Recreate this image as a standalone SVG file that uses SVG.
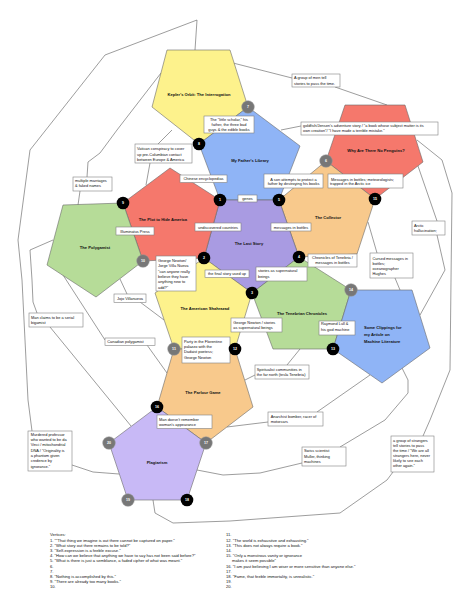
<svg xmlns="http://www.w3.org/2000/svg" width="474" height="609" viewBox="0 0 474 609">
<style>
text{font-family:"Liberation Sans",Arial,sans-serif;fill:#111}
.pl{stroke:#6a6a6a;stroke-width:0.6;stroke-linejoin:round}
.lbl{font-size:4.1px;font-weight:bold;text-anchor:middle}
.lbl2{font-size:4.1px;font-weight:bold}
.box{fill:#fff;stroke:#808080;stroke-width:0.6}
.bt{font-size:3.9px}
.c{text-anchor:middle}
.ln{fill:none;stroke:#5a5a5a;stroke-width:0.6;stroke-linejoin:round}
.vb{fill:#000}
.vg{fill:#777;stroke:#999;stroke-width:0.5}
.vt{font-size:3.6px;fill:#fff;text-anchor:middle;font-weight:bold}
.leg{font-size:4.1px}
</style>
<rect width="474" height="609" fill="#fff"/>
<g id="connectors">
<polyline class="ln" points="161,73 117,130 100,153 88,162 87,177"/>
<polyline class="ln" points="80,191 78,205"/>
<polyline class="ln" points="195,50 197,20 105,55 30,150 18,240 22,280 28,400 32,431"/>
<polyline class="ln" points="233,63 292,78"/>
<polyline class="ln" points="335,87 387,105"/>
<polyline class="ln" points="301,126 281,130"/>
<polyline class="ln" points="172,130 158,144"/>
<polyline class="ln" points="150,163 146,185"/>
<polyline class="ln" points="53,240 30,250 32,280 33,302 37,313"/>
<polyline class="ln" points="63,275 105,340"/>
<polyline class="ln" points="147,345 167,373"/>
<polyline class="ln" points="120,279 127,294"/>
<polyline class="ln" points="140,302 164,320"/>
<polyline class="ln" points="50,327 131,426"/>
<polyline class="ln" points="72,465 93,472 119,474"/>
<polyline class="ln" points="153,500 155,513 173,523 230,521 340,513 387,480 393,472"/>
<polyline class="ln" points="423,436 430,420 450,370 452,193 442,160 417,140"/>
<polyline class="ln" points="418,166 437,221"/>
<polyline class="ln" points="437,235 445,270 420,315"/>
<polyline class="ln" points="368,222 377,253"/>
<polyline class="ln" points="395,278 400,290"/>
<polyline class="ln" points="402,368 408,380 408,393 385,420 340,447"/>
<polyline class="ln" points="302,463 260,473 223,475 197,470"/>
<polyline class="ln" points="370,375 317,412"/>
<polyline class="ln" points="268,422 227,427"/>
<polyline class="ln" points="255,375 245,380"/>
<polyline class="ln" points="287,365 300,349"/>
</g>
<g id="kepler"><polygon class="pl" fill="#fdf28c" points="167,50 230,50 248,107 199,144 152,107"/><text class="lbl" x="199" y="95.5">Kepler's Orbit: The Interrogation</text></g>
<g id="library"><polygon class="pl" fill="#8fb4f6" points="199,144 248,107 300,146 279,200 220,200"/><text class="lbl" x="250" y="161.5">My Father's Library</text></g>
<g id="penguins"><polygon class="pl" fill="#f5786c" points="345,105 405,105 423,162 375,199 326,161"/><text class="lbl" x="376" y="151.5">Why Are There No Penguins?</text></g>
<g id="collector"><polygon class="pl" fill="#f8c98c" points="279,200 326,161 375,199 357,254 299,257"/><text class="lbl" x="328" y="218.5">The Collector</text></g>
<g id="laststory"><polygon class="pl" fill="#a99be2" points="220,200 279,200 299,257 252,293 204,258"/><text class="lbl" x="249" y="244.5">The Last Story</text></g>
<g id="plot"><polygon class="pl" fill="#f5786c" points="123,203 170,168 220,200 204,258 143,261"/><text class="lbl" x="163" y="220.5">The Plot to Hide America</text></g>
<g id="polygamist"><polygon class="pl" fill="#b6dc98" points="63,205 123,203 143,261 96,297 47,265"/><text class="lbl" x="95" y="248.5">The Polygamist</text></g>
<g id="shahrazad"><polygon class="pl" fill="#fdf28c" points="155,293 204,258 252,293 235,349 174,349"/><text class="lbl" x="205" y="309.5">The American Shahrazad</text></g>
<g id="tenebrian"><polygon class="pl" fill="#b6dc98" points="252,293 299,257 351,290 333,349 273,349"/><text class="lbl" x="302" y="314.5">The Tenebrian Chronicles</text></g>
<g id="clippings"><polygon class="pl" fill="#8fb4f6" points="351,290 412,290 430,348 382,383 333,349"/><text class="lbl2" x="364" y="329">Some Clippings for</text><text class="lbl2" x="364" y="336">my Article on</text><text class="lbl2" x="364" y="343">Machine Literature</text></g>
<g id="parlour"><polygon class="pl" fill="#f8c98c" points="174,349 235,349 253,407 206,443 157,407"/><text class="lbl" x="203" y="393.5">The Parlour Game</text></g>
<g id="plagiarism"><polygon class="pl" fill="#c8b9f6" points="157,407 206,443 187,500 128,500 109,443"/><text class="lbl" x="157" y="464">Plagiarism</text></g>
<g id="notes">
<rect class="box" x="292" y="74" width="48" height="13"/><text class="bt" x="294" y="79.4">A group of men tell</text><text class="bt" x="294" y="84.8">stories to pass the time.</text>
<rect class="box" x="204" y="116" width="50" height="17"/><text class="bt c" x="229" y="120.7">The "little scholar," his</text><text class="bt c" x="229" y="126">father, the three bad</text><text class="bt c" x="229" y="131.3">guys &amp; the edible books</text>
<rect class="box" x="301" y="122" width="137" height="13"/><text class="bt" x="303" y="127">goldfish/Jensen's adventure story / "a book whose subject matter is its</text><text class="bt" x="303" y="132.4">own creation"/ "I have made a terrible mistake."</text>
<rect class="box" x="135" y="144" width="57" height="19"/><text class="bt" x="137" y="150.4">Vatican conspiracy to cover</text><text class="bt" x="137" y="155.7">up pre-Columbian contact</text><text class="bt" x="137" y="161">between Europe &amp; America</text>
<rect class="box" x="180" y="175" width="47" height="7.5"/><text class="bt c" x="203.5" y="180">Chinese encyclopedias</text>
<rect class="box" x="264" y="174" width="59" height="14"/><text class="bt c" x="293.5" y="180.7">A son attempts to protect a</text><text class="bt c" x="293.5" y="185.4">father by destroying his books</text>
<rect class="box" x="328" y="174" width="75" height="14"/><text class="bt" x="331" y="180.7">Messages in bottles; meteorologists;</text><text class="bt" x="330" y="185.4">trapped in the Arctic ice</text>
<rect class="box" x="73" y="177" width="39" height="14"/><text class="bt" x="75" y="182">multiple marriages</text><text class="bt" x="75" y="187.4">&amp; faked names</text>
<rect class="box" x="238" y="195" width="19" height="7"/><text class="bt c" x="247.5" y="200">genes</text>
<rect class="box" x="195" y="223" width="46" height="8"/><text class="bt c" x="218" y="228.5">undiscovered countries</text>
<rect class="box" x="271" y="223" width="40" height="8"/><text class="bt c" x="291" y="228.5">messages in bottles</text>
<rect class="box" x="116" y="227" width="38" height="8"/><text class="bt c" x="135" y="232.5">Illuminatus Press</text>
<rect class="box" x="156" y="256" width="40" height="35"/><text class="bt" x="158" y="262">George Newton/</text><text class="bt" x="158" y="267.4">Jorge Villa Nueva</text><text class="bt" x="158" y="272.7">"can anyone really</text><text class="bt" x="158" y="278">believe they have</text><text class="bt" x="158" y="283.4">anything new to</text><text class="bt" x="158" y="288.7">add?"</text>
<rect class="box" x="205" y="270" width="44" height="7.5"/><text class="bt c" x="227" y="275.3">the final story used up</text>
<rect class="box" x="256" y="267" width="51" height="14"/><text class="bt" x="258" y="272.4">stories as supernatural</text><text class="bt" x="258" y="277.7">beings</text>
<rect class="box" x="308" y="254" width="49" height="13"/><text class="bt c" x="332.5" y="259">Chronicles of Tenebria /</text><text class="bt c" x="332.5" y="264">messages in bottles</text>
<rect class="box" x="370" y="253" width="43" height="25"/><text class="bt" x="372.5" y="259.7">Cursed messages in</text><text class="bt" x="372.5" y="264.7">bottles;</text><text class="bt" x="372.5" y="270">oceanographer</text><text class="bt" x="372.5" y="275.4">Hughes</text>
<rect class="box" x="412" y="221" width="33" height="14"/><text class="bt" x="414" y="226.7">Arctic</text><text class="bt" x="414" y="232">hallucination;</text>
<rect class="box" x="114" y="294" width="32" height="8.5"/><text class="bt c" x="130" y="300">Jojo Villanueva</text>
<rect class="box" x="29" y="313" width="54" height="14"/><text class="bt" x="31" y="318.7">Man claims to be a serial</text><text class="bt" x="31" y="324">bigamist</text>
<rect class="box" x="105" y="338" width="50" height="7.5"/><text class="bt" x="107.3" y="343.3">Canadian polygamist</text>
<rect class="box" x="182" y="337" width="48" height="26"/><text class="bt" x="184" y="343">Party in the Florentine</text><text class="bt" x="184" y="348.2">palazzo with the</text><text class="bt" x="184" y="353.4">Dadaist poetess;</text><text class="bt" x="184" y="358.7">George Newton</text>
<rect class="box" x="231" y="318" width="51" height="14"/><text class="bt" x="233.3" y="323.7">George Newton / stories</text><text class="bt" x="233.3" y="329">as supernatural beings</text>
<rect class="box" x="319" y="321" width="36" height="14"/><text class="bt" x="321" y="325.4">Raymond Lull &amp;</text><text class="bt" x="321" y="330.7">his god machine</text>
<rect class="box" x="255" y="365" width="54" height="14"/><text class="bt" x="256.7" y="370.7">Spiritualist communities in</text><text class="bt" x="256.7" y="376">the far north (tesla Tenebria)</text>
<rect class="box" x="157" y="415" width="55" height="13.5"/><text class="bt" x="159" y="420.7">Man doesn't remember</text><text class="bt" x="159" y="425.7">woman's appearance</text>
<rect class="box" x="268" y="412" width="55" height="14"/><text class="bt" x="270.7" y="418">Anarchist bomber, racer of</text><text class="bt" x="270.7" y="423.4">motorcars</text>
<rect class="box" x="302" y="447" width="44" height="19"/><text class="bt" x="304" y="452.4">Swiss scientist</text><text class="bt" x="304" y="457.7">Muller, thinking</text><text class="bt" x="304" y="463">machines</text>
<rect class="box" x="391" y="436" width="43" height="36"/><text class="bt" x="393" y="441.7">a group of strangers</text><text class="bt" x="393" y="446.7">tell stories to pass</text><text class="bt" x="393" y="451.7">the time / "We are all</text><text class="bt" x="393" y="457">strangers here, never</text><text class="bt" x="393" y="462">likely to see each</text><text class="bt" x="393" y="467.4">other again."</text>
<rect class="box" x="28" y="431" width="44" height="40"/><text class="bt" x="30.7" y="435.7">Murdered professor</text><text class="bt" x="30.7" y="441.1">who wanted to be da</text><text class="bt" x="30.7" y="446.4">Vinci / mitochondrial</text><text class="bt" x="30.7" y="451.7">DNA / "Originality is</text><text class="bt" x="30.7" y="457.1">a phantom given</text><text class="bt" x="30.7" y="462.4">credence by</text><text class="bt" x="30.7" y="467.7">ignorance."</text>
</g>
<g id="vertices">
<circle class="vb" cx="220" cy="200" r="6.3"/><text class="vt" x="220" y="201.3">1</text>
<circle class="vb" cx="204" cy="258" r="6.3"/><text class="vt" x="204" y="259.3">2</text>
<circle class="vb" cx="252" cy="293" r="6.3"/><text class="vt" x="252" y="294.3">3</text>
<circle class="vb" cx="299" cy="257" r="6.3"/><text class="vt" x="299" y="258.3">4</text>
<circle class="vb" cx="279" cy="200" r="6.3"/><text class="vt" x="279" y="201.3">5</text>
<circle class="vg" cx="326" cy="161" r="6.3"/><text class="vt" x="326" y="162.3">6</text>
<circle class="vg" cx="248" cy="107" r="6.3"/><text class="vt" x="248" y="108.3">7</text>
<circle class="vb" cx="199" cy="144" r="6.3"/><text class="vt" x="199" y="145.3">8</text>
<circle class="vb" cx="123" cy="203" r="6.3"/><text class="vt" x="123" y="204.3">9</text>
<circle class="vg" cx="143" cy="261" r="6.3"/><text class="vt" x="143" y="262.3">10</text>
<circle class="vg" cx="174" cy="349" r="6.3"/><text class="vt" x="174" y="350.3">11</text>
<circle class="vb" cx="235" cy="349" r="6.3"/><text class="vt" x="235" y="350.3">12</text>
<circle class="vb" cx="333" cy="349" r="6.3"/><text class="vt" x="333" y="350.3">13</text>
<circle class="vg" cx="351" cy="290" r="6.3"/><text class="vt" x="351" y="291.3">14</text>
<circle class="vb" cx="375" cy="199" r="6.3"/><text class="vt" x="375" y="200.3">15</text>
<circle class="vb" cx="157" cy="407" r="6.3"/><text class="vt" x="157" y="408.3">16</text>
<circle class="vg" cx="206" cy="443" r="6.3"/><text class="vt" x="206" y="444.3">17</text>
<circle class="vb" cx="187" cy="500" r="6.3"/><text class="vt" x="187" y="501.3">18</text>
<circle class="vg" cx="128" cy="500" r="6.3"/><text class="vt" x="128" y="501.3">19</text>
<circle class="vg" cx="109" cy="443" r="6.3"/><text class="vt" x="109" y="444.3">20</text>
</g>
<g id="legend">
<text class="leg" x="50" y="536.4">Vertices:</text>
<text class="leg" x="50" y="541.6">1. ""That thing we imagine is out there cannot be captured on paper."</text>
<text class="leg" x="50" y="546.8">2. "What story out there remains to be told?"</text>
<text class="leg" x="50" y="552">3. "Self-expression is a feeble excuse."</text>
<text class="leg" x="50" y="557.2">4. "How can we believe that anything we have to say has not been said before?"</text>
<text class="leg" x="50" y="562.4">5. "What is there is just a semblance, a faded cipher of what was meant."</text>
<text class="leg" x="50" y="567.6">6.</text>
<text class="leg" x="50" y="572.8">7.</text>
<text class="leg" x="50" y="578">8. "Nothing is accomplished by this."</text>
<text class="leg" x="50" y="583.2">9. "There are already too many books."</text>
<text class="leg" x="50" y="588.4">10.</text>
<text class="leg" x="226" y="536.4">11.</text>
<text class="leg" x="226" y="541.6">12. "The world is exhaustive and exhausting."</text>
<text class="leg" x="226" y="546.8">13. "This does not always require a book."</text>
<text class="leg" x="226" y="552">14.</text>
<text class="leg" x="226" y="557.2">15. "Only a monstrous vanity or ignorance</text>
<text class="leg" x="232" y="562.4">makes it seem possible"</text>
<text class="leg" x="226" y="567.6">16. "I am past believing I am wiser or more sensitive than anyone else."</text>
<text class="leg" x="226" y="572.8">17.</text>
<text class="leg" x="226" y="578">18. "Fame, that feeble immortality, is unrealistic."</text>
<text class="leg" x="226" y="583.2">19.</text>
<text class="leg" x="226" y="588.4">20.</text>
</g>
</svg>
